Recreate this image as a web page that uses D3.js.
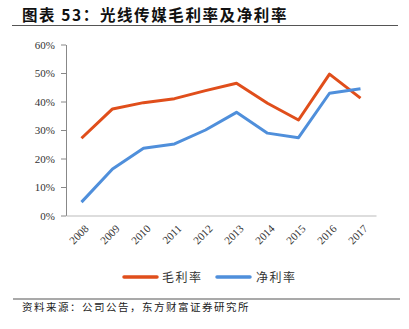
<!DOCTYPE html>
<html><head><meta charset="utf-8">
<script src="https://cdn.jsdelivr.net/npm/d3@7/dist/d3.min.js"></script>
<style>body{margin:0;background:#fff}svg{display:block}</style>
</head><body><svg id="c" width="409" height="329"></svg>
<script>
const years = ["2008","2009","2010","2011","2012","2013","2014","2015","2016","2017"];
const grossMargin = [27.1,37.4,39.6,41.0,43.8,46.4,39.4,33.5,49.6,41.2];
const netMargin = [4.7,16.3,23.6,25.1,30.0,36.2,28.9,27.3,42.9,44.5];
const yTicks = [0,10,20,30,40,50,60];
const seriesNames = ["毛利率","净利率"];
const colors = ["#E04E1B","#4F8FDB"];

const svg = d3.select("#c");
svg.append("text").attr("x",22).attr("y",21).attr("font-family","Noto Sans CJK SC")
  .attr("font-size",15.5).attr("font-weight","bold").attr("letter-spacing",1.6).attr("fill","#111").text("图表 53：光线传媒毛利率及净利率");
svg.append("line").attr("x1",12).attr("x2",398).attr("y1",25.5).attr("y2",25.5).attr("stroke","#555").attr("stroke-width",1.2);

const x = d3.scaleBand().domain(years).range([66,376]);
const y = d3.scaleLinear().domain([0,60]).range([215.5,44.5]);

const yAxis = svg.append("g").attr("transform","translate(66,0)")
  .call(d3.axisLeft(y).tickValues(yTicks).tickFormat(d=>d+"%").tickSize(5).tickSizeOuter(0));
yAxis.select(".domain").attr("stroke","#888");
yAxis.selectAll(".tick line").attr("stroke","#888");
yAxis.selectAll("text").attr("font-family","Liberation Serif").attr("font-size",11).attr("fill","#333").attr("dx",-3);

const xAxis = svg.append("g").attr("transform","translate(0,215.5)")
  .call(d3.axisBottom(x).tickSize(0).tickSizeOuter(0));
xAxis.select(".domain").attr("stroke","#bbb");
xAxis.selectAll("text").attr("font-family","Liberation Serif").attr("font-size",11).attr("fill","#333")
  .attr("text-anchor","end").attr("transform","translate(3,9) rotate(-45)").attr("dy","0.35em");

const line = d3.line().x((d,i)=>x(years[i])+x.bandwidth()/2).y(d=>y(d));
[grossMargin,netMargin].forEach((s,i)=>{
  svg.append("path").datum(s).attr("d",line).attr("fill","none").attr("stroke",colors[i])
    .attr("stroke-width",3).attr("stroke-linejoin","round");
});

const lg = [[124,162],[217,256]];
seriesNames.forEach((n,i)=>{
  svg.append("line").attr("x1",lg[i][0]).attr("x2",lg[i][0]+33).attr("y1",277).attr("y2",277)
    .attr("stroke",colors[i]).attr("stroke-width",3.5).attr("stroke-linecap","round");
  svg.append("text").attr("x",lg[i][1]).attr("y",281.5).attr("font-family","Noto Sans CJK SC")
    .attr("font-size",12).attr("letter-spacing",1.5).attr("fill","#333").text(n);
});

svg.append("line").attr("x1",13).attr("x2",400).attr("y1",299).attr("y2",299).attr("stroke","#555").attr("stroke-width",1.2);
svg.append("text").attr("x",22).attr("y",311).attr("font-family","Noto Sans CJK SC")
  .attr("font-size",10.5).attr("letter-spacing",1.5).attr("fill","#222").text("资料来源：公司公告，东方财富证券研究所");
</script></body></html>
